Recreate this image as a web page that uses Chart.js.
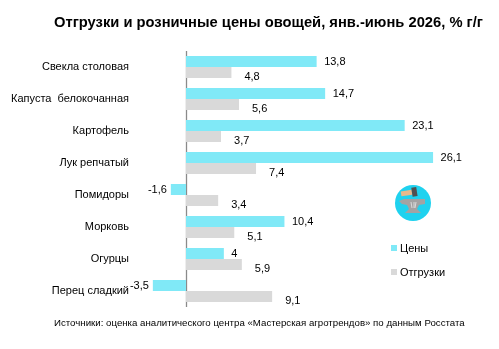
<!DOCTYPE html>
<html>
<head>
<meta charset="utf-8">
<script src="https://cdn.jsdelivr.net/npm/chart.js@4/dist/chart.umd.min.js"></script>
<style>
html,body{margin:0;padding:0;background:#fff;}
#wrap{width:499px;height:349px;position:relative;}
</style>
</head>
<body>
<div id="wrap"><canvas id="c" width="499" height="349"></canvas></div>
<script>
const categories = ["Свекла столовая", "Капуста  белокочанная", "Картофель", "Лук репчатый", "Помидоры", "Морковь", "Огурцы", "Перец сладкий"];
const prices = [13.8, 14.7, 23.1, 26.1, -1.6, 10.4, 4, -3.5];
const shipments = [4.8, 5.6, 3.7, 7.4, 3.4, 5.1, 5.9, 9.1];
const seriesNames = ["Цены", "Отгрузки"];
const titleText = "Отгрузки и розничные цены овощей, янв.-июнь 2026, % г/г";
const sourceText = "Источники: оценка аналитического центра «Мастерская агротрендов» по данным Росстата";

const CYAN = '#80E9F7';
const GREY = '#D9D9D9';
const FONT = '"Liberation Sans", Arial, sans-serif';

function fmt(v){ return String(v).replace('.', ','); }

function fitFont(ctx, text, weight, target, family){
  let size = 12;
  ctx.font = weight + ' ' + size + 'px ' + family;
  const w = ctx.measureText(text).width;
  size = size * target / w;
  return weight + ' ' + size.toFixed(2) + 'px ' + family;
}

const decor = {
  id: 'decor',
  beforeDatasetsDraw(chart){
    const {ctx, chartArea, scales} = chart;
    // zero line
    const x0 = Math.round(scales.x.getPixelForValue(0)) + 0.5;
    ctx.save();
    ctx.strokeStyle = '#8A8A8A';
    ctx.lineWidth = 1.3;
    ctx.beginPath();
    ctx.moveTo(x0, chartArea.top);
    ctx.lineTo(x0, chartArea.bottom);
    ctx.stroke();
    ctx.restore();
  },
  afterDatasetsDraw(chart){
    const {ctx, scales} = chart;
    ctx.save();
    ctx.fillStyle = '#000';
    ctx.font = '11px ' + FONT;
    ctx.textBaseline = 'middle';
    chart.data.datasets.forEach((ds, di) => {
      const meta = chart.getDatasetMeta(di);
      meta.data.forEach((bar, i) => {
        const v = ds.data[i];
        const txt = fmt(v);
        if (v >= 0) {
          ctx.textAlign = 'left';
          const gap = di === 0 ? 7.5 : 13;
          const dy = di === 0 ? 0.5 : 4;
          ctx.fillText(txt, bar.x + gap, bar.y + dy);
        } else {
          ctx.textAlign = 'right';
          ctx.fillText(txt, bar.x - 4, bar.y);
        }
      });
    });
    ctx.restore();
  },
  afterDraw(chart){
    const {ctx} = chart;
    ctx.save();
    // title
    ctx.fillStyle = '#000';
    ctx.font = fitFont(ctx, titleText, 'bold', 429, FONT);
    ctx.textAlign = 'left';
    ctx.textBaseline = 'alphabetic';
    ctx.fillText(titleText, 54, 27);
    // source
    ctx.font = fitFont(ctx, sourceText, 'normal', 411, FONT);
    ctx.textBaseline = 'middle';
    ctx.fillText(sourceText, 54, 323);
    // legend
    const items = [[CYAN, seriesNames[0], 248], [GREY, seriesNames[1], 272]];
    ctx.font = '11px ' + FONT;
    items.forEach(([col, name, y]) => {
      ctx.fillStyle = col;
      ctx.fillRect(391, y - 3, 6, 6);
      ctx.fillStyle = '#000';
      ctx.textAlign = 'left';
      ctx.fillText(name, 400, y + 0.5);
    });
    // logo
    const cx = 413, cy = 203;
    ctx.fillStyle = '#1FD2EF';
    ctx.beginPath(); ctx.arc(cx, cy, 18, 0, Math.PI * 2); ctx.fill();
    // anvil
    ctx.fillStyle = '#A3A3A3';
    ctx.beginPath();
    ctx.moveTo(399, 201);
    ctx.lineTo(404, 199);
    ctx.lineTo(425, 199);
    ctx.lineTo(425, 204);
    ctx.lineTo(419, 205);
    ctx.lineTo(417, 209);
    ctx.lineTo(421, 213);
    ctx.lineTo(405, 213);
    ctx.lineTo(409, 209);
    ctx.lineTo(407, 205);
    ctx.lineTo(402, 204);
    ctx.closePath();
    ctx.fill();
    ctx.strokeStyle = '#E8E8E8';
    ctx.lineWidth = 0.8;
    ctx.beginPath();
    ctx.moveTo(411, 202); ctx.lineTo(412, 208);
    ctx.moveTo(414, 202); ctx.lineTo(414, 208);
    ctx.moveTo(416, 202); ctx.lineTo(415, 208);
    ctx.stroke();
    // hammer
    ctx.save();
    ctx.translate(407, 193);
    ctx.rotate(-0.15);
    ctx.fillStyle = '#E9B98B';
    ctx.fillRect(-6, -2.5, 11, 5);
    ctx.fillStyle = '#505050';
    ctx.fillRect(5, -4.5, 5, 9);
    ctx.restore();
    ctx.restore();
  }
};

new Chart(document.getElementById('c'), {
  type: 'bar',
  data: {
    labels: categories,
    datasets: [
      { label: seriesNames[0], data: prices, backgroundColor: CYAN, barPercentage: 1, categoryPercentage: 0.6875 },
      { label: seriesNames[1], data: shipments, backgroundColor: GREY, barPercentage: 1, categoryPercentage: 0.6875 }
    ]
  },
  options: {
    indexAxis: 'y',
    responsive: false,
    animation: false,
    layout: { padding: { top: 51, bottom: 42, left: 0, right: 29 } },
    plugins: { legend: { display: false }, title: { display: false }, tooltip: { enabled: false } },
    scales: {
      x: { display: false, min: -5.385, max: 30, grid: { display: false } },
      y: {
        offset: true,
        grid: { display: false, drawTicks: false },
        border: { display: false },
        ticks: { color: '#000', font: { family: FONT, size: 11 }, padding: 6 },
        afterFit(scale){ scale.width = 135; }
      }
    }
  },
  plugins: [decor]
});
</script>
</body>
</html>
